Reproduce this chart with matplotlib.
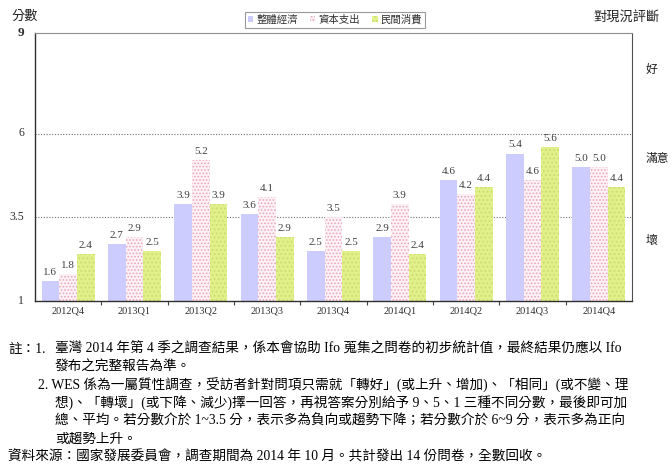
import matplotlib.pyplot as plt
import matplotlib.transforms as mtransforms
import numpy as np

plt.rcParams['font.family'] = ['Liberation Serif', 'Noto Sans CJK TC', 'DejaVu Sans']
plt.rcParams['hatch.linewidth'] = 0.8

quarters = ['2012Q4', '2013Q1', '2013Q2', '2013Q3', '2013Q4',
            '2014Q1', '2014Q2', '2014Q3', '2014Q4']
overall = [1.6, 2.7, 3.9, 3.6, 2.5, 2.9, 4.6, 5.4, 5.0]
capex = [1.8, 2.9, 5.2, 4.1, 3.5, 3.9, 4.2, 4.6, 5.0]
consumption = [2.4, 2.5, 3.9, 2.9, 2.5, 2.4, 4.4, 5.6, 4.4]
series_names = ['整體經濟', '資本支出', '民間消費']
y_ticks = [1, 3.5, 6, 9]
right_labels = [('好', 7.9), ('滿意', 5.25), ('壞', 2.8)]

notes = [
    (8, '註：1.'),
    (55, '臺灣 2014 年第 4 季之調查結果，係本會協助 Ifo 蒐集之問卷的初步統計值，最終結果仍應以 Ifo'),
    (55, '發布之完整報告為準。'),
    (38, '2. WES 係為一屬質性調查，受訪者針對問項只需就「轉好」(或上升、增加)、「相同」(或不變、理'),
    (55, '想)、「轉壞」(或下降、減少)擇一回答，再視答案分別給予 9、5、1 三種不同分數，最後即可加'),
    (55, '總、平均。若分數介於 1~3.5 分，表示多為負向或趨勢下降；若分數介於 6~9 分，表示多為正向'),
    (55, '或趨勢上升。'),
    (8, '資料來源：國家發展委員會，調查期間為 2014 年 10 月。共計發出 14 份問卷，全數回收。'),
]

W, H = 671, 475
fig = plt.figure(figsize=(W / 100, H / 100), dpi=100)
ax = fig.add_axes([35 / W, 1 - 301 / H, 597 / W, 268 / H])

x = np.arange(len(quarters))
bw = 0.267
b1 = ax.bar(x - bw, overall, bw, color='#ccccff', linewidth=0)
b2 = ax.bar(x, capex, bw, color='#fdf3f6', edgecolor='#e9a6bd', hatch='.....', linewidth=0)
b3 = ax.bar(x + bw, consumption, bw, color='#e2f08c', edgecolor='#cbdc6a', hatch='....', linewidth=0)

for bars, vals in [(b1, overall), (b2, capex), (b3, consumption)]:
    for rect, v in zip(bars, vals):
        ax.annotate('%.1f' % v, (rect.get_x() + rect.get_width() / 2, v),
                    xytext=(0, 3), textcoords='offset points',
                    ha='center', va='bottom', fontsize=8, color='#404040')

ax.set_xlim(-0.5, len(quarters) - 0.5)
ax.set_ylim(1, 9)
for yl in [3.5, 6]:
    ax.axhline(yl, color='#707070', lw=0.8, ls=(0, (1, 1.5)), zorder=0.5)

ax.set_xticks(x)
ax.set_xticklabels(quarters, fontsize=7.5, color='#303030')
ax.set_xticks(np.arange(0.5, len(quarters) - 1, 1), minor=True)
ax.tick_params(axis='x', which='major', length=0, pad=4)
ax.tick_params(axis='x', which='minor', length=3, color='#404040', width=0.8)
ax.set_yticks(y_ticks)
ax.set_yticklabels([])
ax.tick_params(axis='y', length=0)

# y labels placed a fixed pixel distance left of the axis
ytrans = ax.get_yaxis_transform() + mtransforms.ScaledTranslation(-11 / 100, 0, fig.dpi_scale_trans)
for v in y_ticks:
    ax.text(0, v, '%g' % v, transform=ytrans,
            ha='right', va='center', fontsize=9.5 if v == 9 else 8.5,
            fontweight='bold' if v == 9 else 'normal', color='#303030')

for s in ['left', 'bottom']:
    ax.spines[s].set_color('#303030')
    ax.spines[s].set_linewidth(1.0)
ax.spines['right'].set_color('#505050')
ax.spines['top'].set_color('#909090')
ax.spines['top'].set_linewidth(0.8)

rtrans = ax.get_yaxis_transform() + mtransforms.ScaledTranslation(14 / 100, 0, fig.dpi_scale_trans)
for lab, yv in right_labels:
    ax.text(1, yv, lab, transform=rtrans, ha='left', va='center',
            fontsize=8.5, color='#202020')

fig.text(12 / W, 1 - 17 / H, '分數', fontsize=9.5, ha='left', va='center', color='#202020')
fig.text(660 / W, 1 - 17 / H, '對現況評斷', fontsize=9.5, ha='right', va='center', color='#202020')

leg = fig.legend([b1, b2, b3], series_names, loc='center', bbox_to_anchor=(335 / W, 1 - 20 / H),
                 ncol=3, frameon=True, fancybox=False, handlelength=0.5,
                 handleheight=0.5, handletextpad=0.3, columnspacing=1.2, borderpad=0.3,
                 prop={'family': ['Noto Sans CJK TC'], 'size': 7.5})
leg.get_frame().set_edgecolor('#808080')
leg.get_frame().set_linewidth(0.8)
for t in leg.get_texts():
    t.set_color('#303030')

for i, (xp, txt) in enumerate(notes):
    yp = 349 + 18 * max(i - 1, 0)
    fig.text(xp / W, 1 - yp / H, txt, fontsize=9.8, ha='left', va='center', color='#000000')

fig.savefig('out.png', dpi=100)
